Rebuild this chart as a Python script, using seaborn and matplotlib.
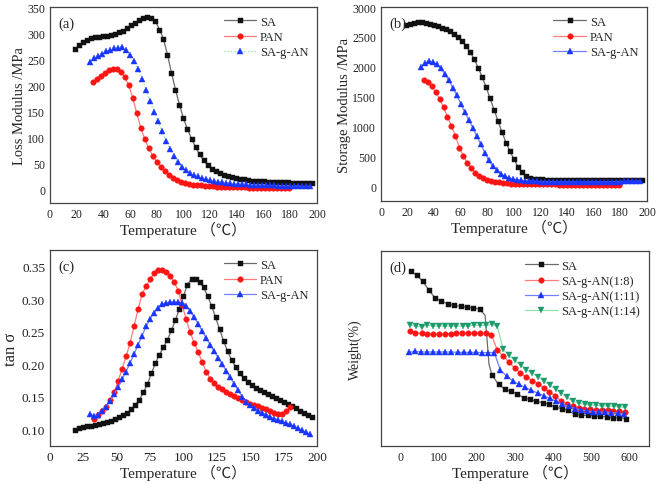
import matplotlib
matplotlib.use('agg')
import seaborn as sns
import matplotlib.pyplot as plt
from matplotlib.ticker import FormatStrFormatter

# ---- (a) loss modulus / (b) storage modulus / (c) tan ----
T_SA = [19, 22, 25, 28, 31, 34, 37, 40, 43, 46, 49, 52, 55, 58, 61, 64, 67, 70, 73, 76,
        79, 82, 85, 88, 91, 94, 97, 100, 103, 106, 109, 112, 115, 118, 121, 124, 127, 130,
        133, 136, 139, 142, 145, 148, 151, 154, 157, 160, 163, 166, 169, 172, 175, 178,
        181, 184, 187, 190, 193, 196]
T_PAN_AB = [32, 35, 38, 41, 44, 47, 50, 53, 56, 59, 62, 65, 68, 71, 74, 77, 80, 83, 86, 89,
            92, 95, 98, 101, 104, 107, 110, 113, 116, 119, 122, 125, 128, 131, 134, 137,
            140, 143, 146, 149, 152, 155, 158, 161, 164, 167, 170, 173, 176, 179]
T_PAN_C = [33, 36, 39, 42, 45, 48, 51, 54, 57, 60, 63, 66, 69, 72, 75, 78, 81, 84, 87, 90,
           93, 96, 99, 102, 105, 108, 111, 114, 117, 120, 123, 126, 129, 132, 135, 138,
           141, 144, 147, 150, 153, 156, 159, 162, 165, 168, 171, 174, 177, 180]
T_GAN = [30, 33, 36, 39, 42, 45, 48, 51, 54, 57, 60, 63, 66, 69, 72, 75, 78, 81, 84, 87,
         90, 93, 96, 99, 102, 105, 108, 111, 114, 117, 120, 123, 126, 129, 132, 135, 138,
         141, 144, 147, 150, 153, 156, 159, 162, 165, 168, 171, 174, 177, 180, 183, 186,
         189, 192, 195]

loss_sa = [270, 277, 283, 287, 290, 292, 293, 294, 295, 297, 299, 302, 305, 310, 315, 320,
           325, 329, 331, 330, 323, 307, 289, 259, 224, 192, 163, 137, 116, 98, 82, 68, 57,
           48, 41, 36, 32, 28, 26, 24, 22, 21, 20, 19, 18, 17.5, 17, 16.5, 16, 15.5, 15, 15,
           14.5, 14.5, 14, 14, 14, 13.5, 13.5, 13]
loss_pan = [206, 212, 218, 224, 229, 232, 231, 226, 216, 200, 176, 147, 119, 97, 80, 65, 54,
            44, 36, 29, 23, 19, 15, 13, 11, 10, 9, 8.5, 8, 7.5, 7, 6.5, 6, 6, 5.5, 5.5, 5, 5,
            5, 4.5, 4.5, 4.5, 4, 4, 4, 4, 4, 4, 3.5, 3.5]
loss_gan = [245, 252, 257, 261, 265, 268, 271, 272, 273, 268, 258, 246, 231, 212, 191, 170,
            150, 131, 112, 94, 78, 64, 53, 44, 38, 33, 29, 26, 23, 21, 19, 17, 16, 15, 14, 13,
            12, 11.5, 11, 10.5, 10, 10, 9.5, 9, 9, 8.5, 8.5, 8, 8, 8, 7.5, 7.5, 7.5, 7, 7, 7]

stor_sa = [2700, 2720, 2735, 2742, 2742, 2735, 2722, 2705, 2683, 2655, 2625, 2590, 2548,
           2495, 2430, 2350, 2250, 2130, 1985, 1830, 1660, 1470, 1280, 1090, 900, 730, 580,
           450, 320, 235, 170, 140, 125, 117, 112, 109, 106, 104, 102, 101, 100, 100, 99,
           99, 99, 98, 98, 98, 98, 98, 98, 99, 99, 99, 100, 100, 101, 101, 102, 102]
stor_pan = [1780, 1740, 1670, 1580, 1460, 1320, 1160, 1000, 840, 640, 500, 385, 295, 225,
            175, 138, 110, 90, 72, 60, 50, 44, 40, 37, 35, 33, 32, 31, 30, 29, 28, 28, 27,
            27, 26, 26, 26, 25, 25, 25, 25, 24, 24, 24, 24, 24, 24, 24, 24, 24]
stor_gan = [1990, 2060, 2090, 2080, 2040, 1970, 1880, 1770, 1650, 1520, 1380, 1240, 1110,
            980, 840, 700, 560, 430, 340, 270, 210, 170, 140, 120, 106, 97, 90, 85, 81, 78,
            76, 75, 73, 72, 71, 70, 70, 70, 70, 70, 70, 70, 70, 71, 71, 72, 72, 73, 74, 75,
            76, 77, 78, 79, 80, 82]

tan_sa = [0.100, 0.102, 0.104, 0.105, 0.106, 0.107, 0.108, 0.110, 0.112, 0.114, 0.116,
          0.119, 0.122, 0.126, 0.131, 0.138, 0.146, 0.157, 0.170, 0.186, 0.202, 0.215,
          0.226, 0.238, 0.252, 0.268, 0.285, 0.305, 0.322, 0.331, 0.331, 0.326, 0.318,
          0.305, 0.290, 0.272, 0.254, 0.236, 0.220, 0.207, 0.196, 0.186, 0.179, 0.173,
          0.168, 0.164, 0.160, 0.157, 0.154, 0.151, 0.148, 0.145, 0.142, 0.139, 0.136,
          0.133, 0.129, 0.125, 0.122, 0.119]
tan_pan = [0.117, 0.122, 0.128, 0.135, 0.145, 0.157, 0.174, 0.193, 0.212, 0.233, 0.258,
           0.285, 0.307, 0.320, 0.330, 0.340, 0.345, 0.345, 0.342, 0.336, 0.326, 0.313,
           0.291, 0.269, 0.249, 0.233, 0.219, 0.203, 0.189, 0.178, 0.171, 0.166, 0.162,
           0.158, 0.155, 0.152, 0.149, 0.146, 0.143, 0.140, 0.138, 0.136, 0.133, 0.131,
           0.129, 0.126, 0.124, 0.124, 0.128, 0.134]
tan_gan = [0.124, 0.121, 0.123, 0.128, 0.135, 0.144, 0.154, 0.165, 0.177, 0.189, 0.202,
           0.216, 0.230, 0.244, 0.258, 0.270, 0.279, 0.287, 0.292, 0.294, 0.295, 0.295,
           0.295, 0.294, 0.289, 0.282, 0.272, 0.262, 0.251, 0.240, 0.230, 0.220, 0.210,
           0.200, 0.190, 0.180, 0.170, 0.160, 0.150, 0.142, 0.137, 0.133, 0.129, 0.126,
           0.123, 0.120, 0.117, 0.115, 0.113, 0.110, 0.108, 0.105, 0.102, 0.099, 0.096, 0.093]

# ---- (d) TGA, weight in % of axis height (no y scale shown) ----
# 222 and 232 are unmarked points on the steep drop
TD_SA = [28, 44, 59, 76, 91, 108, 125, 141, 158, 175, 191, 208, 222, 232, 240, 257, 273,
         290, 306, 323, 339, 356, 372, 389, 405, 422, 438, 456, 473, 490, 507, 523, 540,
         557, 573, 590]
WD_SA = [89.6, 87.5, 84.4, 79.8, 75.9, 74.4, 72.8, 72.1, 71.6, 71.1, 70.9, 70.1, 67.0, 42.0,
         36.4, 31.6, 29.1, 28.0, 26.8, 24.6, 23.9, 22.9, 22.2, 21.4, 20.0, 19.1, 18.3, 16.2,
         15.7, 15.7, 15.4, 15.2, 14.9, 14.5, 14.5, 14.0]
SA_HIDDEN = [12, 13]
TD_AN8 = [25, 40, 56, 71, 86, 101, 116, 132, 147, 162, 177, 192, 208, 223, 238, 254, 269,
          284, 299, 314, 329, 345, 360, 375, 390, 405, 420, 436, 451, 466, 481, 496, 512,
          527, 542, 557, 572, 588]
WD_AN8 = [58.8, 58.1, 57.8, 57.6, 57.6, 57.6, 57.6, 57.6, 57.8, 57.8, 57.8, 57.8, 57.8, 57.8,
          57.1, 49.1, 46.2, 43.1, 40.0, 37.6, 35.4, 33.5, 32.0, 29.7, 27.7, 25.6, 23.1, 21.4,
          20.3, 19.7, 19.1, 18.8, 18.6, 18.5, 18.3, 18.1, 17.8, 17.3]
TD_AN11 = [22, 38, 54, 70, 86, 102, 118, 134, 150, 166, 182, 198, 214, 230, 246, 262, 278,
           294, 310, 327, 343, 359, 375, 391, 407, 423, 440, 456, 472, 488, 504, 520, 536,
           552, 568, 584]
WD_AN11 = [48.0, 48.5, 48.2, 48.2, 48.2, 48.2, 48.2, 48.2, 48.0, 48.0, 48.0, 48.0, 47.9, 47.9,
           47.9, 38.8, 35.9, 33.5, 31.6, 30.1, 28.5, 27.2, 25.8, 24.4, 22.9, 21.4, 20.3, 19.1,
           18.5, 17.9, 17.6, 17.4, 17.3, 17.1, 16.8, 16.2]
TD_AN14 = [26, 41, 56, 71, 87, 102, 117, 132, 147, 163, 178, 193, 208, 223, 239, 254, 269,
           284, 299, 315, 330, 345, 360, 375, 391, 406, 421, 436, 451, 467, 482, 497, 512,
           527, 543, 558, 573, 588]
WD_AN14 = [62.2, 61.4, 61.0, 61.9, 61.5, 61.5, 61.5, 61.5, 61.5, 61.5, 61.5, 61.9, 61.9, 61.9,
           62.4, 61.5, 49.6, 46.5, 43.9, 41.4, 39.1, 37.3, 35.6, 33.5, 31.1, 29.1, 27.0, 25.0,
           22.9, 21.9, 21.4, 21.0, 20.9, 20.7, 20.5, 20.3, 20.2, 19.8]

XLABEL = 'Temperature （℃）'


def draw(ax, x, y, label, line, mk, mcol, ms, ls='-', every=None):
	sns.lineplot(x=x, y=y, ax=ax, label=label, color=line, marker=mk, markersize=ms,
				 markerfacecolor=mcol, markeredgecolor=mcol, markeredgewidth=0.3,
				 linewidth=0.9, linestyle=ls, sort=False, errorbar=None, markevery=every)


def style(ax, tag, tsize=8.5):
	ax.tick_params(direction='in', length=3, width=0.8, labelsize=tsize, colors='#222222',
				   top=False, right=False)
	for s in ax.spines.values():
		s.set_color('#444444')
		s.set_linewidth(0.9)
	ax.text(0.03, 0.95, tag, transform=ax.transAxes, fontsize=10.5, va='top')
	ax.set_xlabel(XLABEL, fontsize=11, labelpad=1)
	ax.legend(loc='upper right', frameon=False, fontsize=9, handlelength=2.6,
			  handletextpad=0.3, labelspacing=0.25, borderaxespad=0.3)


def main(output):
	sns.set_style('white')
	plt.rcParams['font.family'] = ['Liberation Serif', 'Noto Sans CJK SC']

	fig = plt.figure(figsize=(6.61, 4.85), dpi=100)
	axa = fig.add_axes([0.0756, 0.5794, 0.404, 0.404])
	axb = fig.add_axes([0.5764, 0.5835, 0.4024, 0.400])
	axc = fig.add_axes([0.0756, 0.0784, 0.404, 0.404])
	axd = fig.add_axes([0.5764, 0.0784, 0.4054, 0.402])

	black, grey = '#111111', '#6a6a6a'
	red, pink = '#ff1414', '#ff7a7a'
	blue, lblue = '#1a35ff', '#7080ff'
	green, lgreen = '#1d9a6c', '#8fe3a8'

	# (a)
	draw(axa, T_SA, loss_sa, 'SA', grey, 's', black, 3.6)
	draw(axa, T_PAN_AB, loss_pan, 'PAN', pink, 'o', red, 4.0)
	draw(axa, T_GAN, loss_gan, 'SA-g-AN', lgreen, '^', blue, 4.6, ls=':')
	axa.set_xlim(0, 200)
	axa.set_ylim(-25, 350)
	axa.set_xticks(range(0, 201, 20))
	axa.set_yticks(range(0, 351, 50))
	axa.set_ylabel('Loss Modulus /MPa', fontsize=10.5, labelpad=1)
	style(axa, '(a)')

	# (b)
	draw(axb, T_SA, stor_sa, 'SA', grey, 's', black, 3.6)
	draw(axb, T_PAN_AB, stor_pan, 'PAN', pink, 'o', red, 4.0)
	draw(axb, T_GAN, stor_gan, 'SA-g-AN', lblue, '^', blue, 4.6)
	axb.set_xlim(0, 200)
	axb.set_ylim(-250, 3000)
	axb.set_xticks(range(0, 201, 20))
	axb.set_yticks(range(0, 3001, 500))
	axb.set_ylabel('Storage Modulus /MPa', fontsize=10.5, labelpad=1)
	style(axb, '(b)')

	# (c)
	draw(axc, T_SA, tan_sa, 'SA', grey, 's', black, 3.6)
	draw(axc, T_PAN_C, tan_pan, 'PAN', pink, 'o', red, 4.0)
	draw(axc, T_GAN, tan_gan, 'SA-g-AN', lblue, '^', blue, 4.6)
	axc.set_xlim(0, 200)
	axc.set_ylim(0.075, 0.375)
	axc.set_xticks(range(0, 201, 25))
	axc.set_yticks([0.10, 0.15, 0.20, 0.25, 0.30, 0.35])
	axc.yaxis.set_major_formatter(FormatStrFormatter('%.2f'))
	axc.set_ylabel('tan σ', fontsize=12, labelpad=2)
	style(axc, '(c)', tsize=9.5)

	# (d)
	sa_marks = [i for i in range(len(TD_SA)) if i not in SA_HIDDEN]
	draw(axd, TD_SA, WD_SA, 'SA', grey, 's', black, 3.6, every=sa_marks)
	draw(axd, TD_AN8, WD_AN8, 'SA-g-AN(1:8)', pink, 'o', red, 4.0)
	draw(axd, TD_AN11, WD_AN11, 'SA-g-AN(1:11)', lblue, '^', blue, 4.6)
	draw(axd, TD_AN14, WD_AN14, 'SA-g-AN(1:14)', lgreen, 'v', green, 4.6)
	axd.set_xlim(-50, 650)
	axd.set_ylim(0, 100)
	axd.set_xticks(range(0, 601, 100))
	axd.set_yticks([])
	axd.set_ylabel('Weight(%)', fontsize=10, labelpad=14)
	style(axd, '(d)')

	fig.savefig(output, dpi=100)


if __name__ == "__main__":
	main('out.png')
